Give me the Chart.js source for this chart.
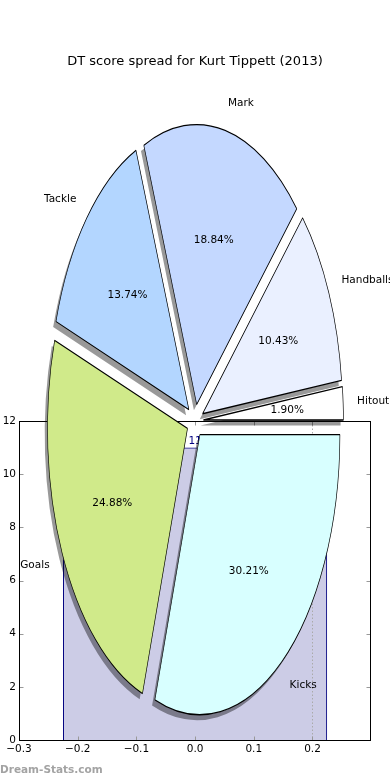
<!DOCTYPE html>
<html>
<head>
<meta charset="utf-8">
<script src="https://cdn.jsdelivr.net/npm/chart.js@4.4.1/dist/chart.umd.min.js"></script>
<style>
  html, body { margin: 0; padding: 0; background: #fff; }
  #wrap { position: relative; width: 390px; height: 780px; overflow: hidden; }
  .layer { position: absolute; left: 0; top: 0; width: 390px; height: 780px; }
  #mark { position: absolute; left: 0; top: 763px; font: bold 10.5px "DejaVu Sans", sans-serif; color: #a3a3a3; }
</style>
</head>
<body>
<div id="wrap">
  <div class="layer"><canvas id="barChart"></canvas></div>
  <div class="layer"><canvas id="pieChart"></canvas></div>
  <div id="mark">Dream-Stats.com</div>
</div>
<script>
(() => {
    'use strict';

    // Score spread, in the order the pie is drawn (clockwise from 3 o'clock)
    const sliceLabels = ['Kicks', 'Goals', 'Tackle', 'Mark', 'Handballs', 'Hitout'];
    const slicePercents = [30.21, 24.88, 13.74, 18.84, 10.43, 1.90];

    // The bar sitting behind the pie
    const barPositions = [0];
    const barValues = [11];

    // Axis ticks and the dotted guide
    const xTicks = [-0.3, -0.2, -0.1, 0.0, 0.1, 0.2];
    const yTicks = [0, 2, 4, 6, 8, 10, 12];
    const xGuides = [0.2];

    const sliceColors = ['#d8ffff', '#d0ea8a', '#b3d6ff', '#c4d8ff', '#eaf0ff', '#ffffff'];
    const FONT = '"DejaVu Sans", sans-serif';
    const BAR_WIDTH = 0.45;
    const X_STEP = 0.1;
    const EXPLODE = 0.06;
    // where the squashed pie sits on the page
    const PIE = { cx: 195, cy: 421, rx: 140, ry: 280 };

    const fmt = v => v.toFixed(1).replace('-', '\u2212');

    // Frame, inward ticks, guide line and bar value labels
    const frame = {
        id: 'frame',
        afterDatasetsDraw(chart) {
            const { ctx, chartArea: a, scales: { x, y } } = chart;
            const line = (x1, y1, x2, y2) => {
                ctx.beginPath();
                ctx.moveTo(x1, y1);
                ctx.lineTo(x2, y2);
                ctx.stroke();
            };
            const L = Math.round(a.left) + 0.5, R = Math.round(a.right) + 0.5;
            const T = Math.round(a.top) + 0.5, B = Math.round(a.bottom) + 0.5;
            ctx.save();
            ctx.lineWidth = 1;

            ctx.strokeStyle = '#aaa';
            ctx.setLineDash([1.5, 2]);
            xGuides.forEach(v => {
                const px = Math.round(x.getPixelForValue(v)) + 0.5;
                line(px, T, px, B);
            });
            ctx.setLineDash([]);

            ctx.fillStyle = '#000080';
            ctx.font = '10.5px ' + FONT;
            ctx.textAlign = 'center';
            ctx.textBaseline = 'bottom';
            chart.getDatasetMeta(0).data.forEach((bar, i) => {
                ctx.fillText(String(barValues[i]), bar.x, bar.y - 1);
            });

            ctx.strokeStyle = '#999';
            xTicks.forEach(v => {
                const px = Math.round(x.getPixelForValue(v)) + 0.5;
                line(px, B, px, B - 4);
                line(px, T, px, T + 4);
            });
            yTicks.forEach(v => {
                const py = Math.round(y.getPixelForValue(v)) + 0.5;
                line(L, py, L + 4, py);
                line(R, py, R - 4, py);
            });

            ctx.strokeStyle = '#000';
            ctx.strokeRect(L, T, R - L, B - T);
            ctx.restore();
        }
    };

    new Chart(document.getElementById('barChart'), {
        type: 'bar',
        data: {
            datasets: [{
                data: barPositions.map((x, i) => ({ x, y: barValues[i] })),
                backgroundColor: 'rgba(0, 0, 128, 0.2)',
                borderColor: '#000080',
                borderWidth: 1,
                // width in axis units: the ruler uses the tick step
                categoryPercentage: BAR_WIDTH / X_STEP,
                barPercentage: 1
            }]
        },
        options: {
            responsive: true,
            maintainAspectRatio: false,
            animation: false,
            layout: { padding: { top: 421, right: 20, left: 0, bottom: 0 } },
            plugins: {
                legend: { display: false },
                tooltip: { enabled: false }
            },
            scales: {
                x: {
                    type: 'linear',
                    min: -0.3,
                    max: 0.298,
                    offset: false,
                    grid: { display: false, drawTicks: false, tickLength: 0, offset: false },
                    border: { display: false },
                    afterBuildTicks: s => { s.ticks = xTicks.map(value => ({ value })); },
                    afterFit: s => { s.height = 40; },
                    ticks: {
                        callback: v => fmt(v),
                        font: { family: FONT, size: 10.5 },
                        color: '#000',
                        padding: 3,
                        maxRotation: 0,
                        autoSkip: false
                    }
                },
                y: {
                    min: 0,
                    max: 12,
                    grid: { display: false, drawTicks: false, tickLength: 0 },
                    border: { display: false },
                    afterBuildTicks: s => { s.ticks = yTicks.map(value => ({ value })); },
                    afterFit: s => { s.width = 19; },
                    ticks: {
                        font: { family: FONT, size: 10.5 },
                        color: '#000',
                        padding: 3
                    }
                }
            }
        },
        plugins: [frame]
    });

    // Stretch the round Chart.js pie into the tall ellipse, explode and shadow it
    const pieShape = {
        id: 'pieShape',
        afterDatasetsUpdate(chart) {
            const arcs = chart.getDatasetMeta(0).data;
            if (!arcs.length) return;
            chart.$pie = { x: arcs[0].x, y: arcs[0].y, r: arcs[0].outerRadius };
            arcs.forEach(arc => {
                const mid = (arc.startAngle + arc.endAngle) / 2;
                arc.x += Math.cos(mid) * EXPLODE * arc.outerRadius;
                arc.y += Math.sin(mid) * EXPLODE * arc.outerRadius;
            });
        },
        beforeDatasetsDraw(chart) {
            const p = chart.$pie;
            const ctx = chart.ctx;
            ctx.save();
            ctx.translate(PIE.cx, PIE.cy);
            ctx.scale(PIE.rx / p.r, PIE.ry / p.r);
            ctx.translate(-p.x, -p.y);

            // shadow pass: fills only, so every shadow ends up under every slice
            ctx.save();
            ctx.shadowColor = 'rgba(0, 0, 0, 0.4)';
            ctx.shadowBlur = 0;
            ctx.shadowOffsetX = -0.02 * PIE.rx;
            ctx.shadowOffsetY = 0.02 * PIE.ry;
            chart.getDatasetMeta(0).data.forEach(arc => {
                const opts = arc.options;
                arc.options = Object.assign({}, opts, { borderWidth: 0 });
                arc.draw(ctx);
                arc.options = opts;
            });
            ctx.restore();
        },
        afterDatasetsDraw(chart) {
            chart.ctx.restore();
        },
        afterDraw(chart) {
            const ctx = chart.ctx;
            ctx.save();
            ctx.font = '10.5px ' + FONT;
            ctx.fillStyle = '#000';
            ctx.textBaseline = 'middle';
            chart.getDatasetMeta(0).data.forEach((arc, i) => {
                const mid = (arc.startAngle + arc.endAngle) / 2;
                const c = Math.cos(mid), s = Math.sin(mid);
                const at = d => [PIE.cx + (EXPLODE + d) * PIE.rx * c, PIE.cy + (EXPLODE + d) * PIE.ry * s];
                let [lx, ly] = at(1.1);
                ctx.textAlign = c > 0 ? 'left' : 'right';
                ctx.fillText(sliceLabels[i], lx, ly);
                [lx, ly] = at(0.6);
                ctx.textAlign = 'center';
                ctx.fillText(slicePercents[i].toFixed(2) + '%', lx, ly);
            });
            ctx.restore();
        }
    };

    new Chart(document.getElementById('pieChart'), {
        type: 'pie',
        data: {
            labels: sliceLabels,
            datasets: [{
                data: slicePercents,
                backgroundColor: sliceColors,
                borderColor: '#000',
                borderWidth: 0.9,
                hoverOffset: 0,
                clip: false
            }]
        },
        options: {
            responsive: true,
            maintainAspectRatio: false,
            animation: false,
            rotation: 90,
            layout: { padding: { top: 50 } },
            plugins: {
                legend: { display: false },
                tooltip: { enabled: false },
                title: {
                    display: true,
                    text: 'DT score spread for Kurt Tippett (2013)',
                    color: '#000',
                    font: { family: FONT, size: 13, weight: 'normal' },
                    padding: { top: 4, bottom: 10 }
                }
            }
        },
        plugins: [pieShape]
    });
})();
</script>
</body>
</html>
